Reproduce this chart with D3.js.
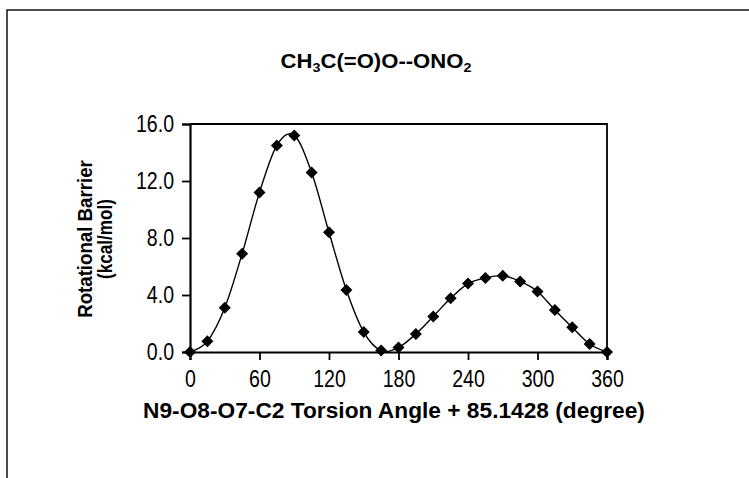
<!DOCTYPE html>
<html><head><meta charset="utf-8">
<script src="https://cdn.jsdelivr.net/npm/d3@7"></script>
<style>
html,body{margin:0;padding:0;background:#fff;}
svg{display:block;}
text{fill:#000;}
</style></head>
<body>
<svg id="chart" width="749" height="478"></svg>
<script>
const angles = [0, 15, 30, 45, 60, 75, 90, 105, 120, 135, 150, 165, 180, 195, 210, 225, 240, 255, 270, 285, 300, 315, 330, 345, 360];
const barrier = [0, 0.75, 3.1, 6.9, 11.2, 14.5, 15.2, 12.6, 8.4, 4.35, 1.4, 0.1, 0.32, 1.27, 2.5, 3.77, 4.8, 5.2, 5.35, 4.95, 4.25, 2.95, 1.73, 0.56, 0];
const xTicks = [0, 60, 120, 180, 240, 300, 360];
const yTicks = [0, 4, 8, 12, 16];
const titleParts = [["CH", false], ["3", true], ["C(=O)O--ONO", false], ["2", true]];
const xTitle = "N9-O8-O7-C2 Torsion Angle + 85.1428 (degree)";
const yTitleLines = ["Rotational Barrier", "(kcal/mol)"];

const svg = d3.select("#chart");
const W = 749, H = 478;
const plot = {left: 190, right: 607, top: 124, bottom: 352};
const font = "'Liberation Sans',Arial,sans-serif";

// outer frame
svg.append("path").attr("d", `M7,${H} L7,10 L${W},10`)
  .attr("fill", "none").attr("stroke", "#111").attr("stroke-width", 1.5);

const x = d3.scaleLinear().domain([0, 360]).range([plot.left, plot.right]);
const y = d3.scaleLinear().domain([0, 16]).range([plot.bottom, plot.top]);

// plot area border (top and right)
svg.append("path").attr("d", `M${plot.left},${plot.top} L${plot.right},${plot.top} L${plot.right},${plot.bottom}`)
  .attr("fill", "none").attr("stroke", "#000").attr("stroke-width", 1.8);

// axes
const xAxis = d3.axisBottom(x).tickValues(xTicks).tickFormat(d3.format("d")).tickSize(8).tickPadding(11);
const gx = svg.append("g").attr("transform", `translate(0,${plot.bottom})`).call(xAxis);
const yAxis = d3.axisLeft(y).tickValues(yTicks).tickFormat(d3.format(".1f")).tickSize(8).tickPadding(8);
const gy = svg.append("g").attr("transform", `translate(${plot.left},0)`).call(yAxis);
[gx, gy].forEach(g => {
  g.select(".domain").attr("stroke", "#000").attr("stroke-width", 2.2);
  g.selectAll(".tick line").attr("stroke", "#000").attr("stroke-width", 1.8);
  g.selectAll(".tick text").attr("font-family", font).attr("font-size", 23).attr("fill", "#000");
});
gx.selectAll(".tick text").attr("dy", "0.71em");
// condense tick labels horizontally
[gx, gy].forEach(g => g.selectAll(".tick text").each(function() {
  const len = this.getComputedTextLength();
  d3.select(this).attr("textLength", len * 0.85).attr("lengthAdjust", "spacingAndGlyphs");
}));

// curve
const line = d3.line().x((d, i) => x(angles[i])).y(d => y(d)).curve(d3.curveCardinal.tension(0));
svg.append("path").datum(barrier).attr("d", line)
  .attr("fill", "none").attr("stroke", "#000").attr("stroke-width", 1.4);

// markers
const diamond = "M0,-6L6,0L0,6L-6,0Z";
svg.append("g").selectAll("path").data(barrier).join("path")
  .attr("d", diamond)
  .attr("transform", (d, i) => `translate(${x(angles[i])},${y(d)})`)
  .attr("fill", "#000");

// helper: condensed text group fitted to a target width
function fitGroup(g, textSel, targetW) {
  const w = textSel.node().getBBox().width;
  const sx = targetW / w;
  g.attr("transform", g.attr("data-base") + ` scale(${sx},1)`);
}

// title
const tg = svg.append("g").attr("data-base", "translate(376,68)");
const t = tg.append("text").attr("x", 0).attr("y", 0).attr("text-anchor", "middle")
  .attr("font-family", font).attr("font-weight", "bold").attr("font-size", 20);
let prevSub = false;
titleParts.forEach(([s, sub]) => {
  const ts = t.append("tspan").text(s);
  if (sub) { ts.attr("font-size", 13).attr("dy", 4); }
  else if (prevSub) { ts.attr("dy", -4); }
  prevSub = sub;
});
fitGroup(tg, t, 191);

// x title
const xg = svg.append("g").attr("data-base", "translate(394,418)");
const xt = xg.append("text").attr("text-anchor", "middle")
  .attr("font-family", font).attr("font-weight", "bold").attr("font-size", 22)
  .text(xTitle);
fitGroup(xg, xt, 502);

// y title
yTitleLines.forEach((s, i) => {
  const lens = [158, 80];
  const g = svg.append("g").attr("data-base", `translate(${92 + i * 20},239) rotate(-90)`);
  const tx = g.append("text").attr("text-anchor", "middle")
    .attr("font-family", font).attr("font-weight", "bold").attr("font-size", 20).text(s);
  fitGroup(g, tx, lens[i]);
});
</script>
</body></html>
